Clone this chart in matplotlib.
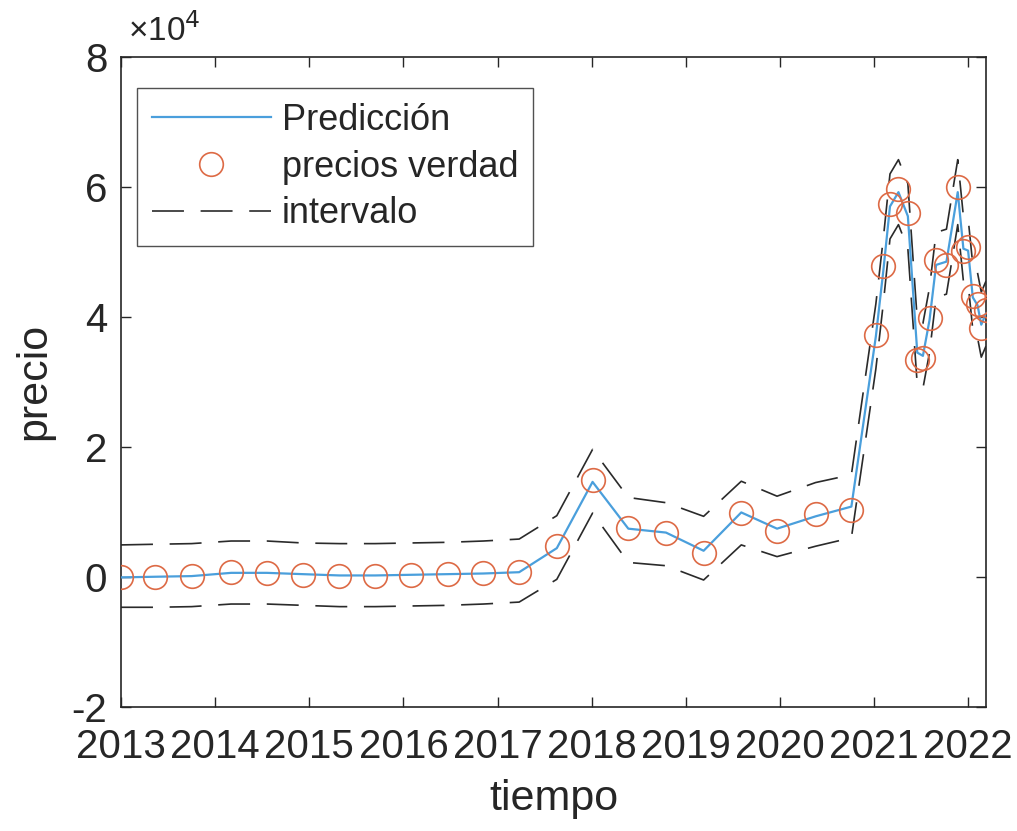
import matplotlib
matplotlib.use("Agg")
import matplotlib.pyplot as plt
from matplotlib.ticker import FuncFormatter, FixedLocator

# Fechas (años decimales) de cada observación
fechas = [2013.00, 2013.36, 2013.75, 2014.17, 2014.55, 2014.93, 2015.32, 2015.70,
          2016.08, 2016.47, 2016.85, 2017.23, 2017.63, 2018.01, 2018.39, 2018.79,
          2019.19, 2019.59, 2019.97, 2020.38, 2020.76,
          2021.02, 2021.10, 2021.17, 2021.26, 2021.36, 2021.46, 2021.52, 2021.59,
          2021.66, 2021.77, 2021.89, 2021.95, 2022.00, 2022.05, 2022.10, 2022.14,
          2022.19]

# Precios observados
precios_verdad = [-100, 0, 100, 700, 600, 300, 150, 150,
                  300, 400, 600, 700, 4700, 14900, 7500, 6700,
                  3700, 9800, 7100, 9600, 10300,
                  37200, 47800, 57400, 59700, 56000, 33300, 33600, 39800,
                  48800, 48000, 60000, 50200, 50700, 43200, 42000, 38300,
                  41000]

# Predicción del modelo
prediccion = [-100, 0, 100, 600, 600, 400, 200, 200,
              300, 400, 500, 700, 4400, 14600, 7400, 6800,
              4000, 9900, 7400, 9300, 10800,
              37000, 47200, 57000, 59200, 55500, 34500, 34000, 39500,
              48000, 48500, 59200, 50500, 50200, 43000, 41800, 38800,
              40500]

# Límites del intervalo de predicción
limite_superior = [4900, 5000, 5100, 5500, 5500, 5200, 5100, 5100,
                   5200, 5300, 5500, 5800, 9400, 19600, 12200, 11400,
                   9300, 14700, 12400, 14500, 15700,
                   42000, 52200, 62000, 64200, 60500, 39500, 39000, 44500,
                   53000, 53500, 64200, 55500, 55200, 48000, 46800, 43800,
                   45500]
limite_inferior = [-4700, -4700, -4600, -4200, -4200, -4400, -4600, -4600,
                   -4500, -4400, -4200, -3900, -400, 9800, 2200, 1700,
                   -500, 4900, 3100, 4700, 6000,
                   32000, 42200, 52000, 54200, 50500, 29500, 29000, 34500,
                   43000, 43500, 54200, 45500, 45200, 38000, 36800, 33800,
                   35500]

anios = [2013, 2014, 2015, 2016, 2017, 2018, 2019, 2020, 2021, 2022]
ticks_y = [-20000, 0, 20000, 40000, 60000, 80000]

plt.rcParams['font.family'] = ['Liberation Sans', 'DejaVu Sans']
plt.rcParams['lines.scale_dashes'] = False
texto = '#262626'

fig = plt.figure(figsize=(10.17, 8.31), dpi=100)
ax = fig.add_axes([0.119, 0.1496, 0.8505, 0.7818])

ax.plot(fechas, prediccion, color='#4a9fdc', lw=1.6, label='Predicción', zorder=3)
ax.plot(fechas, precios_verdad, linestyle='none', marker='o', markersize=17,
        markerfacecolor='none', markeredgecolor='#dd6a45', markeredgewidth=1.2,
        label='precios verdad', zorder=4)
ax.plot(fechas, limite_superior, color='#2a2a2a', lw=1.2, dashes=(23, 12),
        label='intervalo', zorder=2)
ax.plot(fechas, limite_inferior, color='#2a2a2a', lw=1.2, dashes=(23, 12), zorder=2)

ax.set_xlim(fechas[0], fechas[-1])
ax.set_ylim(-20000, 80000)
ax.xaxis.set_major_locator(FixedLocator(anios))
ax.set_xticklabels([str(a) for a in anios])
ax.yaxis.set_major_locator(FixedLocator(ticks_y))
ax.yaxis.set_major_formatter(FuncFormatter(lambda v, p: f"{v/1e4:g}"))

ax.tick_params(direction='in', length=7, width=1.0, colors=texto,
               labelsize=29, top=True, right=True)
ax.tick_params(axis='x', pad=15)
ax.tick_params(axis='y', pad=10)
for s in ax.spines.values():
    s.set_color(texto)
    s.set_linewidth(1.2)

ax.set_xlabel('tiempo', fontsize=31, color=texto, labelpad=10)
ax.set_ylabel('precio', fontsize=31, color=texto, labelpad=12)
ax.text(0.008, 1.014, '×10$^{4}$', transform=ax.transAxes, fontsize=24,
        color=texto, ha='left', va='bottom')

leg = ax.legend(loc='upper left', bbox_to_anchor=(0.019, 0.952), fontsize=26,
                frameon=True, fancybox=False, handlelength=3.3, handletextpad=0.3,
                borderpad=0.4, labelspacing=0.33, borderaxespad=0)
leg.get_frame().set_edgecolor(texto)
leg.get_frame().set_linewidth(1.0)
for t in leg.get_texts():
    t.set_color(texto)

fig.savefig('out.png', dpi=100, facecolor='white')
